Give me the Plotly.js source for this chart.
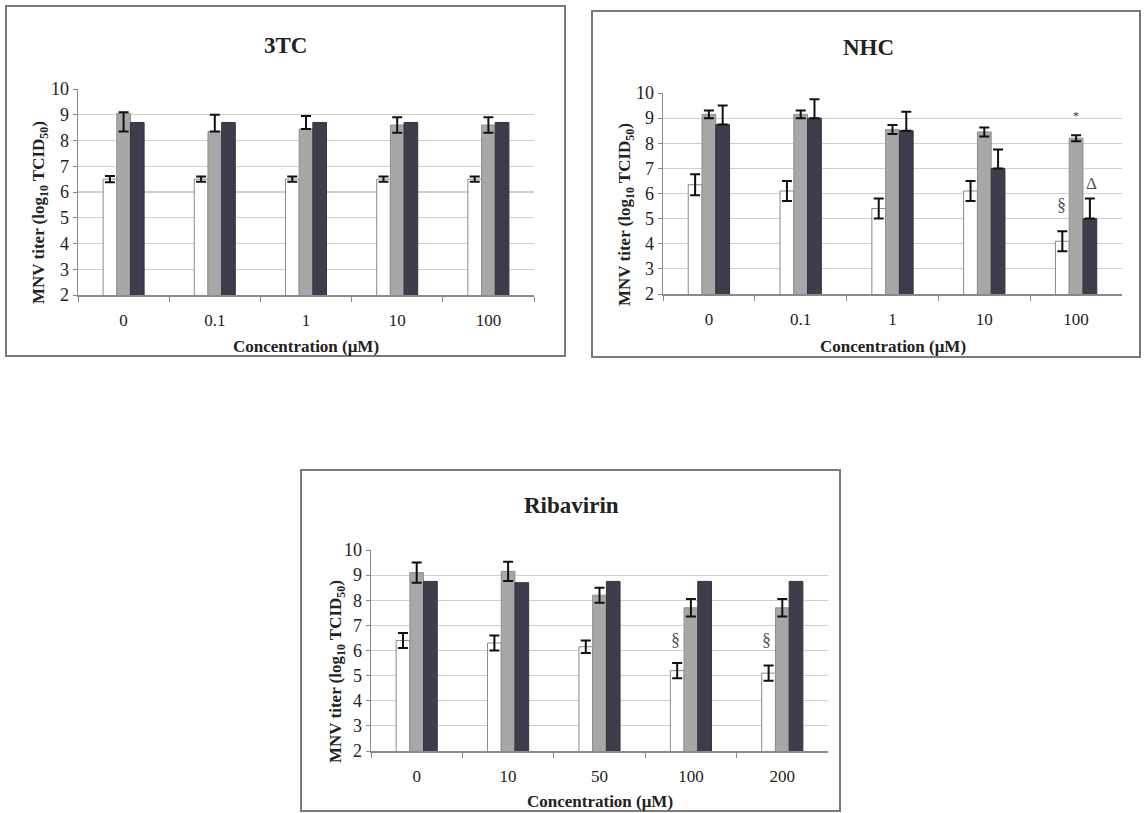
<!DOCTYPE html>
<html>
<head>
<meta charset="utf-8">
<script src="https://cdn.plot.ly/plotly-3.0.1.min.js"></script>
<style>html,body{margin:0;padding:0;background:#fff;}#chart{width:1144px;height:813px;}</style>
</head>
<body>
<div id="chart"></div>
<script>
// ---- Data ----
const cat3TC = ["0", "0.1", "1", "10", "100"];
const white3TC = [6.5, 6.5, 6.5, 6.5, 6.5];
const white3TCErr = [0.12, 0.1, 0.1, 0.1, 0.1];
const gray3TC = [9.05, 8.35, 8.45, 8.6, 8.6];
const gray3TCErrPlus = [0.05, 0.65, 0.5, 0.3, 0.3];
const gray3TCErrMinus = [0.7, 0, 0, 0.3, 0.3];
const dark3TC = [8.7, 8.7, 8.7, 8.7, 8.7];

const catNHC = ["0", "0.1", "1", "10", "100"];
const whiteNHC = [6.35, 6.1, 5.4, 6.1, 4.1];
const whiteNHCErr = [0.42, 0.4, 0.4, 0.4, 0.4];
const grayNHC = [9.15, 9.15, 8.55, 8.45, 8.2];
const grayNHCErr = [0.15, 0.15, 0.18, 0.18, 0.12];
const darkNHC = [8.75, 9.0, 8.5, 7.0, 5.0];
const darkNHCErrPlus = [0.75, 0.75, 0.75, 0.75, 0.8];

const catRib = ["0", "10", "50", "100", "200"];
const whiteRib = [6.4, 6.3, 6.15, 5.2, 5.1];
const whiteRibErr = [0.3, 0.3, 0.25, 0.3, 0.3];
const grayRib = [9.1, 9.15, 8.2, 7.7, 7.7];
const grayRibErr = [0.4, 0.38, 0.3, 0.35, 0.35];
const darkRib = [8.75, 8.7, 8.75, 8.75, 8.75];

const panelTitles = ["3TC", "NHC", "Ribavirin"];
const xTitle = "Concentration (μM)";
const yTitle = "MNV titer (log<sub>10</sub> TCID<sub>50</sub>)";

// ---- Styling helpers ----
const W = 1144, H = 813;
const px = v => v / W;
const py = v => 1 - v / H;
const SERIF = "Liberation Serif, Times New Roman, serif";
const zeros = n => new Array(n).fill(0);

function errSym(arr) {
  return {type: "data", array: arr, visible: true, color: "#111", thickness: 2, width: 5};
}
function errAsym(plus, minus) {
  return {type: "data", symmetric: false, array: plus, arrayminus: minus, visible: true, color: "#111", thickness: 2, width: 5};
}
function whiteTrace(x, y, err, xa, ya) {
  return {type: "bar", x: x, y: y, xaxis: xa, yaxis: ya, showlegend: false,
    marker: {color: "#ffffff", line: {color: "#8a8a8a", width: 1}}, error_y: err};
}
function grayTrace(x, y, err, xa, ya) {
  return {type: "bar", x: x, y: y, xaxis: xa, yaxis: ya, showlegend: false,
    marker: {color: "#a7a7a7", line: {color: "#8f8f8f", width: 1}},
    error_y: err};
}
function darkTrace(x, y, err, xa, ya) {
  const t = {type: "bar", x: x, y: y, xaxis: xa, yaxis: ya, showlegend: false,
    marker: {color: "#3d3d4b", line: {color: "#35353f", width: 1}}};
  if (err) t.error_y = err;
  return t;
}

const data = [
  whiteTrace(cat3TC, white3TC, errSym(white3TCErr), "x", "y"),
  grayTrace(cat3TC, gray3TC, errAsym(gray3TCErrPlus, gray3TCErrMinus), "x", "y"),
  darkTrace(cat3TC, dark3TC, null, "x", "y"),
  whiteTrace(catNHC, whiteNHC, errSym(whiteNHCErr), "x2", "y2"),
  grayTrace(catNHC, grayNHC, errSym(grayNHCErr), "x2", "y2"),
  darkTrace(catNHC, darkNHC, errAsym(darkNHCErrPlus, zeros(5)), "x2", "y2"),
  whiteTrace(catRib, whiteRib, errSym(whiteRibErr), "x3", "y3"),
  grayTrace(catRib, grayRib, errSym(grayRibErr), "x3", "y3"),
  darkTrace(catRib, darkRib, null, "x3", "y3")
];

function xAxis(domain, anchor) {
  return {domain: domain, anchor: anchor, type: "category",
    showline: true, linecolor: "#8a8a8a", linewidth: 1.5,
    ticks: "outside", tickson: "boundaries", ticklen: 5, tickcolor: "#8a8a8a",
    ticklabelstandoff: 9,
    showgrid: false, zeroline: false,
    tickfont: {family: SERIF, size: 17, color: "#222"}};
}
function yAxis(domain, anchor) {
  return {domain: domain, anchor: anchor, range: [2, 10], dtick: 1,
    showline: true, linecolor: "#8a8a8a", linewidth: 1.5,
    ticks: "outside", ticklen: 4, tickcolor: "#8a8a8a",
    showgrid: true, gridcolor: "#cfcfcf", gridwidth: 1.2, zeroline: false,
    tickfont: {family: SERIF, size: 18, color: "#222"}};
}

function ann(x, y, text, size, extra) {
  return Object.assign({xref: "paper", yref: "paper", x: px(x), y: py(y), text: text, showarrow: false,
    xanchor: "center", yanchor: "middle", font: {family: SERIF, size: size, color: "#222"}}, extra || {});
}
function dataAnn(xref, yref, x, y, text, size, color) {
  return {xref: xref, yref: yref, x: x, y: y, text: text, showarrow: false,
    xanchor: "center", yanchor: "middle", font: {family: SERIF, size: size, color: color}};
}

const layout = {
  width: W, height: H,
  margin: {l: 0, r: 0, t: 0, b: 0},
  paper_bgcolor: "#ffffff", plot_bgcolor: "#ffffff",
  barmode: "group", bargap: 0.55, bargroupgap: 0,
  showlegend: false,
  xaxis: xAxis([px(78), px(534)], "y"),
  yaxis: yAxis([py(295), py(89)], "x"),
  xaxis2: xAxis([px(663), px(1122)], "y2"),
  yaxis2: yAxis([py(294), py(93)], "x2"),
  xaxis3: xAxis([px(371), px(828)], "y3"),
  yaxis3: yAxis([py(751), py(550)], "x3"),
  shapes: [
    {type: "rect", xref: "paper", yref: "paper", x0: px(6), x1: px(565), y0: py(356), y1: py(6), line: {color: "#7a7a7a", width: 2}},
    {type: "rect", xref: "paper", yref: "paper", x0: px(592), x1: px(1140), y0: py(357), y1: py(11), line: {color: "#7a7a7a", width: 2}},
    {type: "rect", xref: "paper", yref: "paper", x0: px(301), x1: px(840), y0: py(811), y1: py(470), line: {color: "#7a7a7a", width: 2}}
  ],
  annotations: [
    ann(285, 45, "<b>" + panelTitles[0] + "</b>", 23),
    ann(868, 48, "<b>" + panelTitles[1] + "</b>", 23),
    ann(571, 505, "<b>" + panelTitles[2] + "</b>", 23),
    ann(306, 346, "<b>" + xTitle + "</b>", 17),
    ann(893, 346, "<b>" + xTitle + "</b>", 17),
    ann(600, 801, "<b>" + xTitle + "</b>", 17),
    ann(40, 213, "<b>" + yTitle + "</b>", 17, {textangle: -90}),
    ann(626, 215, "<b>" + yTitle + "</b>", 17, {textangle: -90}),
    ann(337, 672, "<b>" + yTitle + "</b>", 17, {textangle: -90}),
    dataAnn("x2", "y2", 4 - 0.16, 5.55, "§", 18, "#555"),
    dataAnn("x2", "y2", 4, 9.1, "*", 12, "#333"),
    dataAnn("x2", "y2", 4 + 0.17, 6.4, "Δ", 17, "#555"),
    dataAnn("x3", "y3", 3 - 0.17, 6.4, "§", 18, "#555"),
    dataAnn("x3", "y3", 4 - 0.17, 6.4, "§", 18, "#555")
  ]
};

Plotly.newPlot("chart", data, layout, {displayModeBar: false, staticPlot: true});
</script>
</body>
</html>
